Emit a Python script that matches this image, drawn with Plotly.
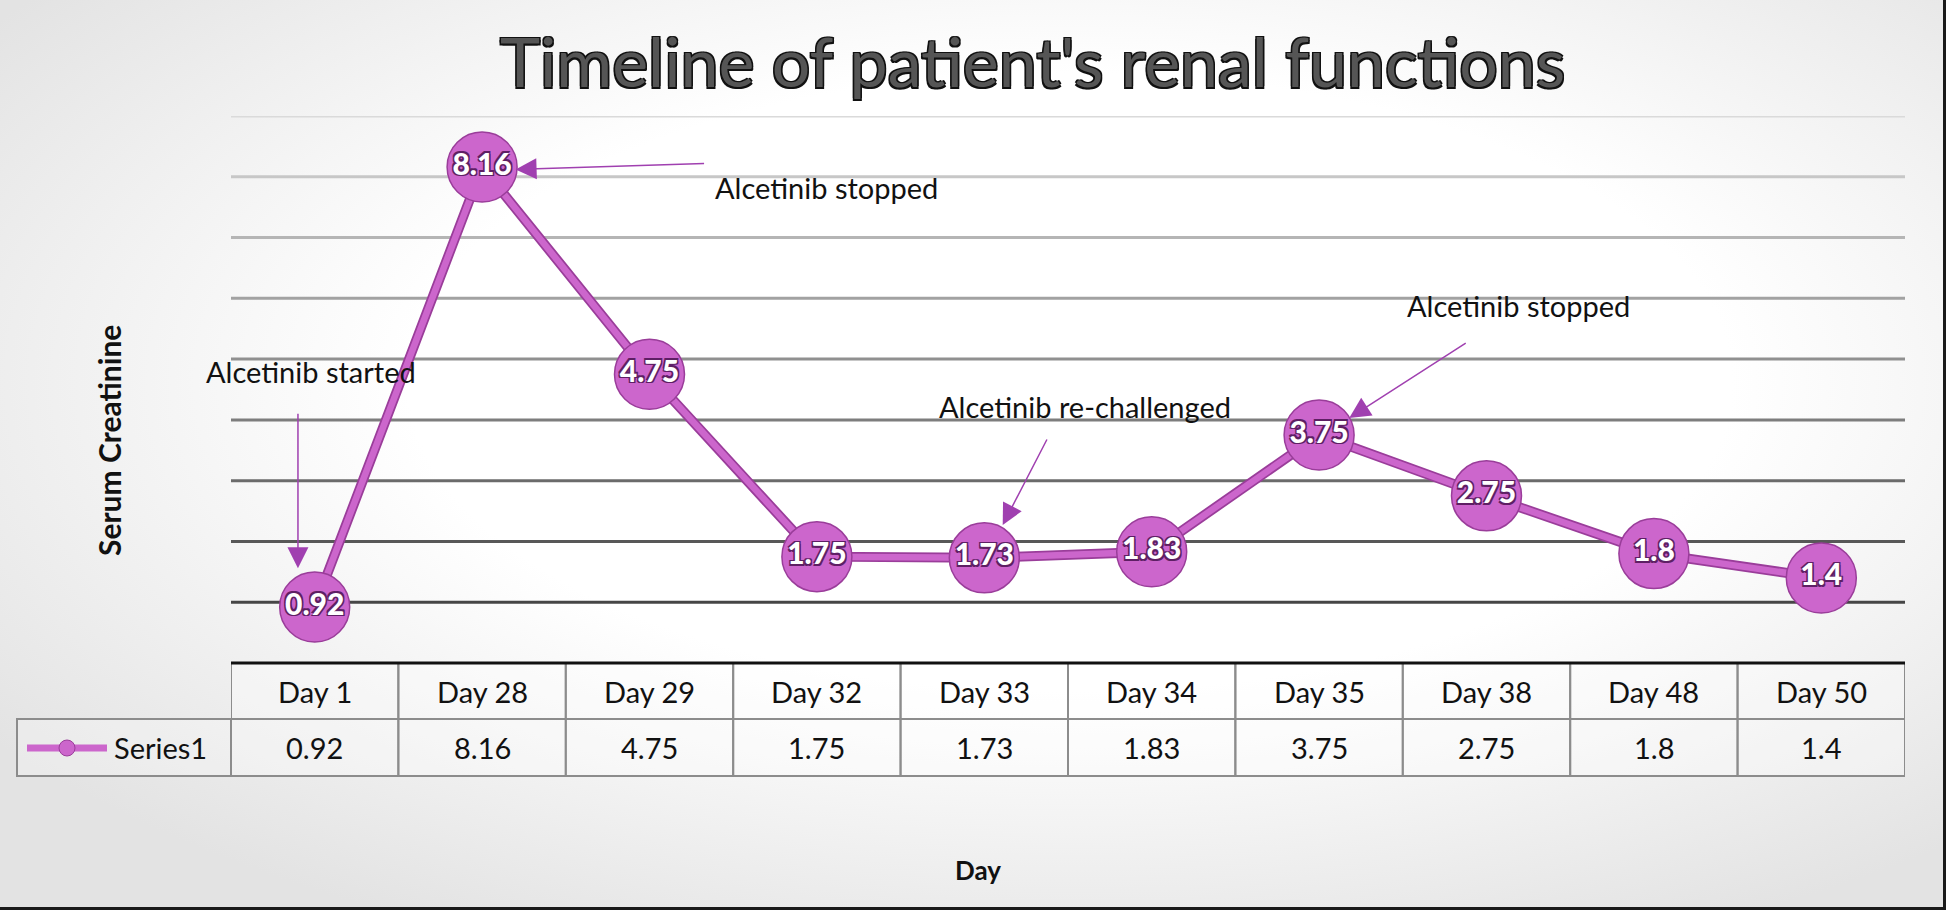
import base64
import plotly.graph_objects as go

# ---------------- data ----------------
days = ["Day 1", "Day 28", "Day 29", "Day 32", "Day 33", "Day 34", "Day 35", "Day 38", "Day 48", "Day 50"]
creatinine = [0.92, 8.16, 4.75, 1.75, 1.73, 1.83, 3.75, 2.75, 1.8, 1.4]
series_name = "Series1"
grid_values = [1, 2, 3, 4, 5, 6, 7, 8, 9]
events = ["Alcetinib started", "Alcetinib stopped", "Alcetinib re-challenged", "Alcetinib stopped"]

# ---------------- geometry ----------------
W, H = 1946, 910
ML, MR, MT, MB = 231, 41, 116, 247
PW, PH = W - ML - MR, H - MT - MB


def pxx(p):
    return (p - ML) / PW


def pxy(p):
    return (H - MB - p) / PH


FONT = "Lato"
PURPLE = "#cc66cc"
PURPLE_DARK = "#9a3d9a"
ARROW = "#a040b0"

# background gradient (svg)
svg = (
    "<svg xmlns='http://www.w3.org/2000/svg' width='1946' height='910' viewBox='0 0 1946 910' "
    "preserveAspectRatio='none'><defs><radialGradient id='g' cx='0.55' cy='0.42' r='0.68'>"
    "<stop offset='0' stop-color='#ffffff'/><stop offset='0.5' stop-color='#ffffff'/>"
    "<stop offset='1' stop-color='#e3e3e3'/></radialGradient></defs>"
    "<rect width='1946' height='910' fill='url(#g)'/></svg>"
)
bg_src = "data:image/svg+xml;base64," + base64.b64encode(svg.encode()).decode()

fig = go.Figure()

fig.add_trace(go.Scatter(
    x=days, y=creatinine, mode="lines",
    line=dict(color=PURPLE_DARK, width=10),
    hoverinfo="skip", showlegend=False,
))
fig.add_trace(go.Scatter(
    x=days, y=creatinine, mode="lines+markers+text",
    name=series_name,
    line=dict(color=PURPLE, width=6.5),
    marker=dict(size=70, color=PURPLE, line=dict(color=PURPLE_DARK, width=1.5)),
    text=[str(v) for v in creatinine],
    textposition="middle center",
    textfont=dict(family=FONT, size=30, color="white", weight=900,
                  shadow="1.5px 1.5px 0 #5e1f64, -1.5px -1.5px 0 #5e1f64, 1.5px -1.5px 0 #5e1f64, -1.5px 1.5px 0 #5e1f64"),
    cliponaxis=False,
    showlegend=False,
))

shapes = []
# gradient gridlines (light at top, dark at bottom)
for g in grid_values:
    t = (g - 1) / (len(grid_values) - 1)
    c = int(70 + t * (218 - 70))
    shapes.append(dict(type="line", xref="paper", yref="y", x0=0, x1=1, y0=g, y1=g,
                       line=dict(color=f"rgb({c},{c},{c})", width=3), layer="below"))

# table geometry
y_top = 0.0
y_mid = pxy(719)
y_bot = pxy(776)
cell_line = dict(color="#8c8c8c", width=2)
for i, d in enumerate(days):
    shapes.append(dict(type="rect", xref="x", yref="paper", x0=i - 0.5, x1=i + 0.5, y0=y_mid, y1=y_top,
                       line=cell_line, fillcolor="rgba(255,255,255,0.35)", layer="below"))
    shapes.append(dict(type="rect", xref="x", yref="paper", x0=i - 0.5, x1=i + 0.5, y0=y_bot, y1=y_mid,
                       line=cell_line, fillcolor="rgba(255,255,255,0.35)", layer="below"))
# legend cell
shapes.append(dict(type="rect", xref="paper", yref="paper", x0=pxx(17), x1=0, y0=y_bot, y1=y_mid,
                   line=cell_line, fillcolor="rgba(255,255,255,0.25)", layer="below"))
# axis line
shapes.append(dict(type="line", xref="paper", yref="paper", x0=0, x1=1, y0=0, y1=0,
                   line=dict(color="#111111", width=3)))
# legend symbol
shapes.append(dict(type="line", xref="paper", yref="paper", x0=pxx(27), x1=pxx(107), y0=pxy(748), y1=pxy(748),
                   line=dict(color=PURPLE, width=7)))
shapes.append(dict(type="circle", xref="paper", yref="paper", x0=pxx(59), x1=pxx(75), y0=pxy(756), y1=pxy(740),
                   line=dict(color=PURPLE_DARK, width=1), fillcolor=PURPLE))
# outer frame (right and bottom edges)
shapes.append(dict(type="line", xref="paper", yref="paper", x0=pxx(W - 1.5), x1=pxx(W - 1.5), y0=pxy(0), y1=pxy(H),
                   line=dict(color="#1a1a1a", width=3)))
shapes.append(dict(type="line", xref="paper", yref="paper", x0=pxx(0), x1=pxx(W), y0=pxy(H - 1.5), y1=pxy(H - 1.5),
                   line=dict(color="#1a1a1a", width=3)))

annotations = []
TABLE_FONT = dict(family=FONT, size=29, color="#111111")
for i, d in enumerate(days):
    annotations.append(dict(x=i, y=(y_top + y_mid) / 2, xref="x", yref="paper", text=d, showarrow=False,
                            font=TABLE_FONT, xanchor="center", yanchor="middle"))
    annotations.append(dict(x=i, y=(y_mid + y_bot) / 2, xref="x", yref="paper", text=str(creatinine[i]),
                            showarrow=False, font=TABLE_FONT, xanchor="center", yanchor="middle"))
annotations.append(dict(x=pxx(112), y=(y_mid + y_bot) / 2, xref="paper", yref="paper", text=series_name,
                        showarrow=False, font=TABLE_FONT, xanchor="left", yanchor="middle"))

# title
annotations.append(dict(x=pxx(1032), y=pxy(60), xref="paper", yref="paper",
                        text="Timeline of patient's renal functions", showarrow=False,
                        font=dict(family=FONT, size=68, color="#555555",
                                  shadow="1.5px 1.5px 0 #111, -1.5px -1.5px 0 #111, 1.5px -1.5px 0 #111, -1.5px 1.5px 0 #111"),
                        xanchor="center", yanchor="middle"))
# axis titles
annotations.append(dict(x=pxx(109), y=pxy(441), xref="paper", yref="paper", text="<b>Serum Creatinine</b>",
                        textangle=-90, showarrow=False, font=dict(family=FONT, size=30, color="#111111"),
                        xanchor="center", yanchor="middle"))
annotations.append(dict(x=pxx(978), y=pxy(870), xref="paper", yref="paper", text="<b>Day</b>",
                        showarrow=False, font=dict(family=FONT, size=26, color="#111111"),
                        xanchor="center", yanchor="middle"))

# event labels and arrows (x in category index, y in data units)
label_pos = [(-0.02, 4.80), (3.06, 7.82), (4.60, 4.22), (7.19, 5.88)]
arrow_tip = [(-0.10, 1.56), (1.20, 8.12), (4.11, 2.27), (6.18, 4.03)]
arrow_tail = [(0, -156), (190, -6), (45, -87), (118, -76)]
for ev, (lx, ly), (tx, ty), (ax, ay) in zip(events, label_pos, arrow_tip, arrow_tail):
    annotations.append(dict(x=lx, y=ly, xref="x", yref="y", text=ev, showarrow=False,
                            font=dict(family=FONT, size=29, color="#111111"),
                            xanchor="center", yanchor="middle"))
    annotations.append(dict(x=tx, y=ty, xref="x", yref="y", text="", showarrow=True,
                            ax=ax, ay=ay, axref="pixel", ayref="pixel",
                            arrowhead=2, arrowsize=2.8, arrowwidth=1.5, arrowcolor=ARROW, standoff=0))

fig.update_layout(
    width=W, height=H,
    margin=dict(l=ML, r=MR, t=MT, b=MB),
    paper_bgcolor="white",
    plot_bgcolor="rgba(0,0,0,0)",
    showlegend=False,
    xaxis=dict(range=[-0.5, len(days) - 0.5], showticklabels=False, showgrid=False, zeroline=False,
               ticks="", type="category"),
    yaxis=dict(range=[0, 9], showticklabels=False, showgrid=False, zeroline=False, ticks=""),
    shapes=shapes,
    annotations=annotations,
    images=[dict(source=bg_src, xref="paper", yref="paper", x=pxx(0), y=pxy(0),
                 sizex=W / PW, sizey=H / PH, xanchor="left", yanchor="top",
                 sizing="stretch", layer="below")],
)

fig.write_html(
    "out.html",
    config={"displayModeBar": False},
    post_script="document.body.style.margin='0';document.body.style.overflow='hidden';",
)
